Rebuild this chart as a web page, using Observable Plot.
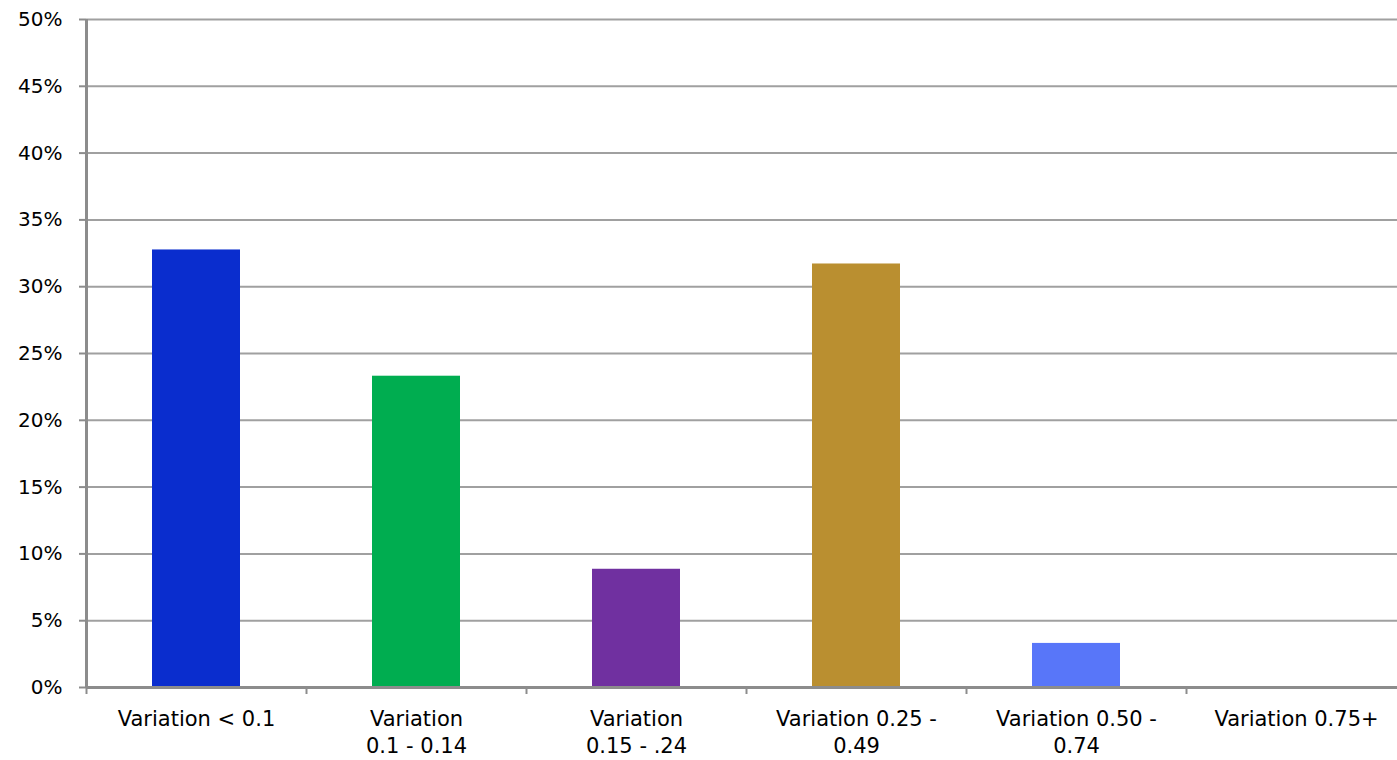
<!DOCTYPE html>
<html>
<head>
<meta charset="utf-8">
<script src="https://cdn.jsdelivr.net/npm/d3@7"></script>
<script src="https://cdn.jsdelivr.net/npm/@observablehq/plot@0.6"></script>
<style>
  html, body { margin: 0; padding: 0; background: #fff; overflow: hidden; }
  #chart { width: 1397px; overflow: hidden; }
  #chart svg { display: block; max-width: none !important; }
</style>
</head>
<body>
<div id="chart"></div>
<script>
// Share of items by variation band
const categories = [
  "Variation < 0.1",
  "Variation\n0.1 - 0.14",
  "Variation\n0.15 - .24",
  "Variation 0.25 -\n0.49",
  "Variation 0.50 -\n0.74",
  "Variation 0.75+"
];
const shares = [0.3275, 0.233, 0.0885, 0.317, 0.033, 0];
const barColors = ["#0a2dce", "#00ad50", "#7030a0", "#ba8f30", "#5876f9", "#888888"];
const yTicks = [0, 0.05, 0.10, 0.15, 0.20, 0.25, 0.30, 0.35, 0.40, 0.45, 0.50];

const data = categories.map((c, i) => ({index: i, label: c, value: shares[i], color: barColors[i]}));
const font = "'DejaVu Sans', sans-serif";
const axisColor = "#8c8c8c";

const chart = Plot.plot({
  width: 1410,
  height: 760,
  marginLeft: 86,
  marginRight: 4,
  marginTop: 19,
  marginBottom: 73,
  style: {fontFamily: font, fontSize: "20px", color: "#000", background: "#fff", maxWidth: "none"},
  x: {domain: [0, categories.length], axis: null},
  y: {domain: [0, 0.5], axis: null},
  color: {type: "identity"},
  marks: [
    Plot.gridY(yTicks, {stroke: "#a0a0a0", strokeWidth: 2, strokeOpacity: 1, x1: 0, x2: categories.length}),
    Plot.rectY(data, {
      x1: d => d.index + 0.3,
      x2: d => d.index + 0.7,
      y1: 0,
      y2: "value",
      fill: "color"
    }),
    // left and bottom axis lines
    Plot.ruleX([0], {y1: 0, y2: 0.5, stroke: axisColor, strokeWidth: 3}),
    Plot.ruleY([0], {stroke: axisColor, strokeWidth: 3}),
    Plot.axisY({
      ticks: yTicks,
      tickSize: 7,
      tickPadding: 17,
      stroke: axisColor,
      strokeWidth: 2,
      fill: "#000",
      tickFormat: d => Math.round(d * 100) + "%",
      fontSize: 20,
      label: null
    }),
    // boundary ticks between categories
    Plot.axisX({
      ticks: d3.range(categories.length + 1),
      tickSize: 7,
      stroke: axisColor,
      strokeWidth: 2,
      tickFormat: () => "",
      label: null
    }),
    // category labels centred under each bar
    Plot.axisX({
      ticks: d3.range(categories.length).map(i => i + 0.5),
      tickSize: 0,
      tickPadding: 20,
      fill: "#000",
      tickFormat: v => categories[Math.floor(v)],
      fontSize: 21,
      lineHeight: 1.27,
      label: null
    })
  ]
});

document.getElementById("chart").appendChild(chart);
</script>
</body>
</html>
